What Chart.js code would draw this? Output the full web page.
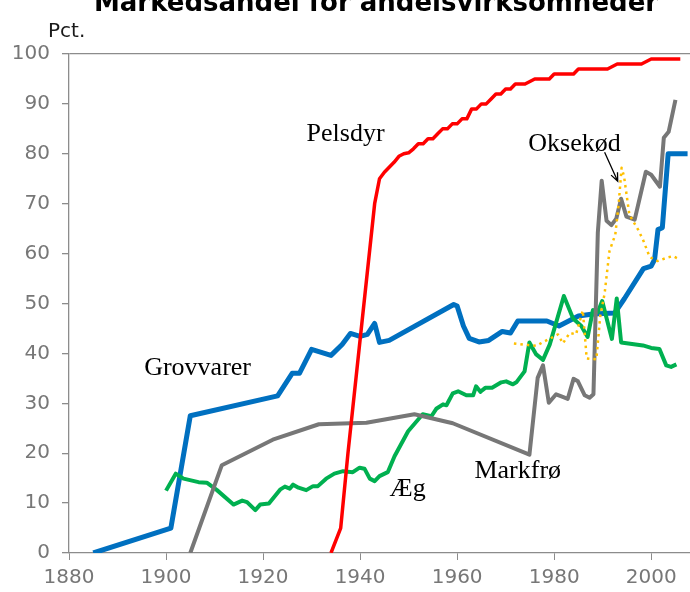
<!DOCTYPE html>
<html>
<head>
<meta charset="utf-8">
<script src="https://cdn.jsdelivr.net/npm/chart.js@4.4.0/dist/chart.umd.min.js"></script>
<style>
    body { margin: 0; background: #fff; }
    #wrap { width: 690px; height: 592px; position: relative; }
</style>
</head>
<body>
<div id="wrap"><canvas id="chart" width="690" height="592"></canvas></div>
<script>
// Markedsandel for andelsvirksomheder (pct.)

const xTicks = [1880, 1900, 1920, 1940, 1960, 1980, 2000];
const yTicks = [0, 10, 20, 30, 40, 50, 60, 70, 80, 90, 100];

const pelsYears = [1934, 1936, 1937.5, 1943, 1944, 1945, 1946, 1947, 1948, 1949, 1950, 1951, 1952, 1953, 1954, 1955, 1956, 1957, 1958, 1959, 1960, 1961, 1962, 1963, 1964, 1965, 1966, 1967, 1968, 1969, 1970, 1971, 1972, 1974, 1975, 1976, 1979, 1980, 1984, 1985, 1991, 1992, 1993, 1998, 1999, 2000, 2006];
const pelsValues = [0, 5, 20, 70, 75, 76.3, 77.3, 78.3, 79.5, 80, 80.2, 81, 82, 82, 83, 83, 84, 85, 85, 86, 86, 87, 87, 89, 89, 90, 90, 91, 92, 92, 93, 93, 94, 94, 94.5, 95, 95, 96, 96, 97, 97, 97.5, 98, 98, 98.5, 99, 99];

const grovYears = [1885, 1901, 1905, 1923, 1926, 1927.5, 1930, 1934, 1936.3, 1938, 1940, 1941.5, 1943, 1944, 1946, 1959.3, 1960, 1961.3, 1962.5, 1964.5, 1966.5, 1969.3, 1971, 1972.5, 1978.5, 1981, 1985, 1988, 1992.5, 1994.5, 1998.4, 2000, 2000.7, 2001.4, 2002.3, 2003.5, 2007.5];
const grovValues = [0, 5, 27.5, 31.5, 36, 36, 40.8, 39.6, 41.8, 44, 43.4, 43.8, 46, 42.2, 42.6, 49.8, 49.5, 45.5, 43, 42.3, 42.6, 44.4, 44.1, 46.5, 46.5, 45.5, 47.5, 47.9, 48.1, 51, 57, 57.5, 58.8, 64.8, 65.2, 80, 80];

const aegYears = [1900, 1902, 1903.6, 1906.7, 1908.4, 1910.5, 1913.9, 1915.7, 1916.7, 1918.4, 1919.4, 1921.2, 1923.5, 1924.5, 1925.5, 1926.2, 1927.3, 1928.9, 1930.3, 1931.3, 1933, 1934.7, 1936.5, 1938.5, 1939.9, 1940.9, 1942, 1943, 1944, 1945.7, 1947.1, 1949.9, 1952.9, 1954.7, 1955.7, 1957.1, 1957.8, 1959.1, 1960.2, 1961.9, 1963.3, 1963.9, 1964.8, 1965.8, 1967.2, 1969.1, 1970.1, 1971.5, 1972.2, 1973.9, 1974.9, 1976.3, 1977.7, 1979.1, 1982, 1983.9, 1985.6, 1986.9, 1988, 1989, 1989.9, 1991.9, 1992.9, 1993.8, 1998.3, 2000, 2001.7, 2003.1, 2004.1, 2005.2];
const aegValues = [12.5, 15.9, 14.9, 14.2, 14.1, 12.6, 9.7, 10.5, 10.2, 8.6, 9.7, 9.9, 12.7, 13.3, 12.9, 13.7, 13.1, 12.6, 13.4, 13.4, 14.9, 15.9, 16.4, 16.2, 17.1, 16.9, 14.9, 14.4, 15.4, 16.2, 19.4, 24.4, 27.8, 27.4, 28.9, 29.8, 29.6, 32, 32.4, 31.6, 31.6, 33.4, 32.3, 33.1, 33.1, 34.2, 34.4, 33.8, 34.2, 36.4, 42.2, 39.8, 38.7, 41.8, 51.5, 47, 45.5, 43.3, 48.7, 48.3, 50.5, 42.9, 51, 42.2, 41.6, 41.1, 40.9, 37.6, 37.3, 37.8];

const markYears = [1905, 1911.5, 1922, 1931.5, 1941.3, 1951.2, 1959.1, 1974.9, 1976.6, 1977.7, 1978.9, 1980.4, 1981.5, 1982.8, 1984, 1984.9, 1986.3, 1987.3, 1988.1, 1989, 1989.8, 1990.8, 1991.8, 1992.8, 1993.8, 1994.9, 1996.6, 1998.9, 2000, 2001.8, 2002.6, 2003.6, 2005];
const markValues = [0, 17.6, 22.7, 25.8, 26.1, 27.8, 26, 19.7, 35.1, 37.6, 30.1, 31.8, 31.4, 30.9, 34.9, 34.4, 31.6, 31.1, 31.8, 64.2, 74.6, 66.6, 65.7, 67, 71, 67.4, 66.8, 76.4, 75.8, 73.4, 83.2, 84.4, 90.8];

const okseYears = [1971.7, 1976.3, 1978, 1980.8, 1981.8, 1983.2, 1984.5, 1985.9, 1986.3, 1986.7, 1988.7, 1989.5, 1990.4, 1991.4, 1992.6, 1993.3, 1993.9, 1994.4, 1995.5, 1997.3, 1998.3, 1999.7, 2001.3, 2003.3, 2004.5, 2005.9];
const okseValues = [42, 41.5, 42.4, 43.8, 42, 44.1, 43.8, 48.6, 44, 39, 38.8, 47.5, 52, 60.5, 63.8, 70, 77.2, 75.5, 67.8, 64.8, 62.8, 59.3, 58.5, 59.2, 59.5, 58.8];

// text labels in the plot (year, value at baseline)
const seriesLabels = [
    { text: 'Pelsdyr', x: 1937.0, y: 82.5 },
    { text: 'Oksekød', x: 1984.2, y: 80.5 },
    { text: 'Grovvarer', x: 1906.5, y: 35.6 },
    { text: 'Æg', x: 1949.8, y: 11.4 },
    { text: 'Markfrø', x: 1972.5, y: 15.1 }
];
const arrowFrom = { x: 1990.4, y: 80.3 };
const arrowTo = { x: 1993.1, y: 74.5 };

function toPoints(years, values) {
    return years.map((yr, i) => ({ x: yr, y: values[i] }));
}

const axisGrey = '#8c8c8c';
const labelGrey = '#777777';

const annotations = {
    id: 'annotations',
    afterDatasetsDraw(chart) {
        const { ctx, scales } = chart;
        ctx.save();
        ctx.fillStyle = '#000';
        ctx.font = '26px "Liberation Serif", "Times New Roman", serif';
        ctx.textAlign = 'center';
        ctx.textBaseline = 'alphabetic';
        seriesLabels.forEach(l => {
            ctx.fillText(l.text, scales.x.getPixelForValue(l.x), scales.y.getPixelForValue(l.y));
        });

        // arrow for Oksekød
        const x1 = scales.x.getPixelForValue(arrowFrom.x), y1 = scales.y.getPixelForValue(arrowFrom.y);
        const x2 = scales.x.getPixelForValue(arrowTo.x), y2 = scales.y.getPixelForValue(arrowTo.y);
        const ang = Math.atan2(y2 - y1, x2 - x1);
        ctx.strokeStyle = '#000';
        ctx.lineWidth = 1.3;
        ctx.beginPath();
        ctx.moveTo(x1, y1);
        ctx.lineTo(x2, y2);
        ctx.moveTo(x2 - 9 * Math.cos(ang - 0.4), y2 - 9 * Math.sin(ang - 0.4));
        ctx.lineTo(x2, y2);
        ctx.lineTo(x2 - 9 * Math.cos(ang + 0.4), y2 - 9 * Math.sin(ang + 0.4));
        ctx.stroke();

        // title (cut at the top) and unit
        ctx.font = 'bold 26px "DejaVu Sans", Verdana, sans-serif';
        ctx.fillText('Markedsandel for andelsvirksomheder', 376, 11);
        ctx.font = '20px "DejaVu Sans", Verdana, sans-serif';
        ctx.textAlign = 'left';
        ctx.fillStyle = '#1a1a1a';
        ctx.fillText('Pct.', 48, 37);
        ctx.restore();
    }
};

new Chart(document.getElementById('chart'), {
    type: 'line',
    data: {
        datasets: [
            { label: 'Pelsdyr', data: toPoints(pelsYears, pelsValues), borderColor: '#ff0000', borderWidth: 3.5 },
            { label: 'Oksekød', data: toPoints(okseYears, okseValues), borderColor: '#ffc000', borderWidth: 2.5, borderDash: [2.5, 4] },
            { label: 'Markfrø', data: toPoints(markYears, markValues), borderColor: '#777777', borderWidth: 4 },
            { label: 'Æg', data: toPoints(aegYears, aegValues), borderColor: '#00b050', borderWidth: 4 },
            { label: 'Grovvarer', data: toPoints(grovYears, grovValues), borderColor: '#0070c0', borderWidth: 5 }
        ]
    },
    options: {
        responsive: false,
        animation: false,
        layout: { padding: { top: 54, right: 0, left: 0, bottom: 0 } },
        elements: {
            point: { radius: 0 },
            line: { tension: 0, fill: false, borderJoinStyle: 'round', borderCapStyle: 'butt' }
        },
        plugins: {
            legend: { display: false },
            tooltip: { enabled: false },
            title: { display: false }
        },
        scales: {
            x: {
                type: 'linear',
                min: 1880,
                max: 2008,
                afterBuildTicks: scale => { scale.ticks = xTicks.map(v => ({ value: v })); },
                afterFit: scale => { scale.height = 39; },
                ticks: {
                    color: labelGrey,
                    font: { family: '"DejaVu Sans", Verdana, sans-serif', size: 20 },
                    padding: 6,
                    maxRotation: 0,
                    minRotation: 0,
                    callback: v => String(v)
                },
                grid: { drawOnChartArea: false, tickLength: 7, tickColor: axisGrey },
                border: { color: axisGrey, width: 1.3 }
            },
            y: {
                min: 0,
                max: 100,
                afterBuildTicks: scale => { scale.ticks = yTicks.map(v => ({ value: v })); },
                afterFit: scale => { scale.width = 69; },
                ticks: {
                    color: labelGrey,
                    font: { family: '"DejaVu Sans", Verdana, sans-serif', size: 20 },
                    padding: 12
                },
                grid: {
                    color: c => (c.tick && c.tick.value === 100 ? axisGrey : 'rgba(0,0,0,0)'),
                    lineWidth: 1.3,
                    tickLength: 7,
                    tickColor: axisGrey
                },
                border: { color: axisGrey, width: 1.3 }
            }
        }
    },
    plugins: [annotations]
});
</script>
</body>
</html>
